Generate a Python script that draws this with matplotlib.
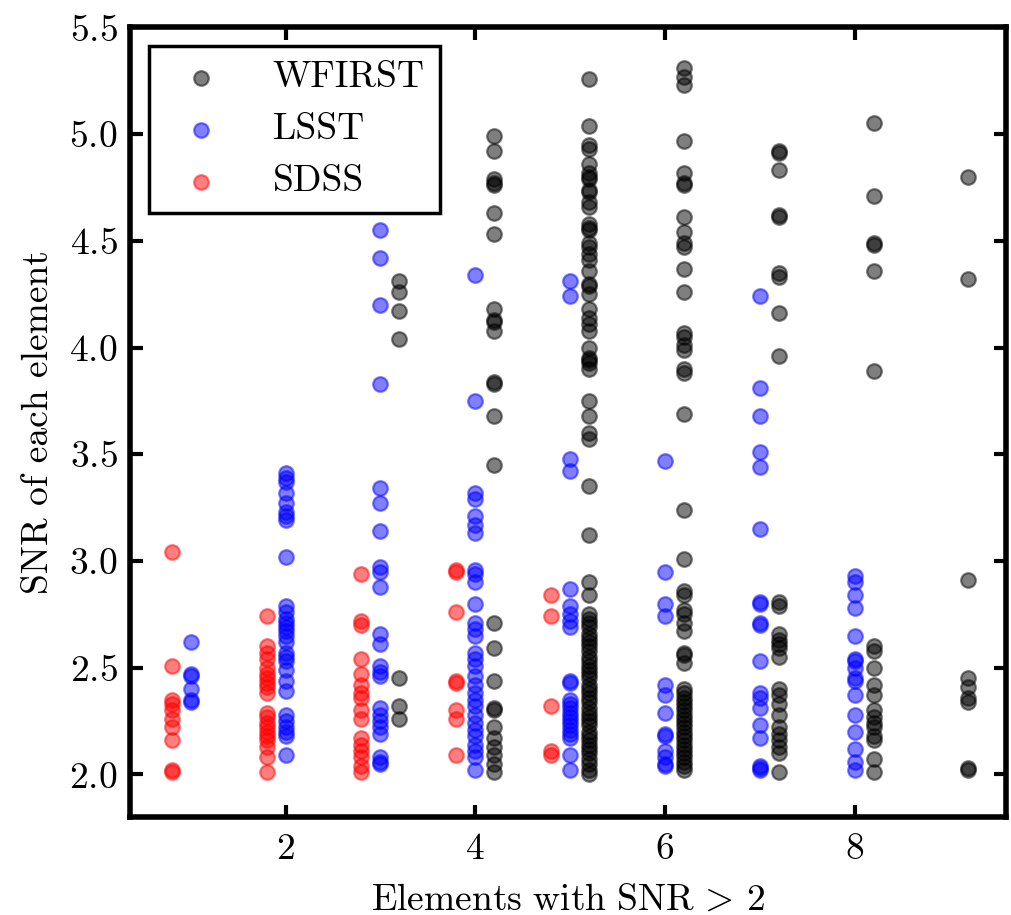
import matplotlib
matplotlib.use("Agg")
import matplotlib.pyplot as plt

# Elements with SNR > 2 (column) for each survey, and the SNR of every element
sdss_n = [1, 2, 3, 4, 5]
sdss_snr = [
    [3.04, 2.51, 2.35, 2.33, 2.30, 2.26, 2.22, 2.16, 2.02, 2.01],
    [2.74, 2.60, 2.57, 2.54, 2.50, 2.47, 2.45, 2.43, 2.41, 2.38, 2.29, 2.27,
     2.24, 2.22, 2.20, 2.18, 2.16, 2.13, 2.08, 2.01],
    [2.94, 2.72, 2.70, 2.54, 2.47, 2.42, 2.38, 2.36, 2.30, 2.26, 2.17, 2.14,
     2.11, 2.08, 2.04, 2.01],
    [2.96, 2.95, 2.76, 2.44, 2.43, 2.30, 2.26, 2.09],
    [2.84, 2.74, 2.32, 2.11, 2.09],
]

lsst_n = [1, 2, 3, 4, 5, 6, 7, 8]
lsst_snr = [
    [2.62, 2.47, 2.46, 2.40, 2.35, 2.34],
    [3.41, 3.39, 3.37, 3.32, 3.27, 3.23, 3.21, 3.19, 3.02, 2.79, 2.76, 2.73,
     2.71, 2.69, 2.67, 2.65, 2.62, 2.57, 2.55, 2.53, 2.49, 2.44, 2.39, 2.28,
     2.25, 2.22, 2.20, 2.18, 2.09],
    [4.55, 4.42, 4.20, 3.83, 3.34, 3.27, 3.14, 2.97, 2.95, 2.88, 2.66, 2.61,
     2.51, 2.48, 2.46, 2.31, 2.28, 2.25, 2.22, 2.19, 2.08, 2.06, 2.05],
    [4.34, 3.75, 3.32, 3.29, 3.21, 3.17, 3.13, 2.96, 2.94, 2.90, 2.80, 2.71,
     2.68, 2.65, 2.57, 2.54, 2.51, 2.46, 2.42, 2.38, 2.35, 2.32, 2.28, 2.24,
     2.21, 2.18, 2.14, 2.11, 2.08, 2.02],
    [4.31, 4.24, 3.48, 3.42, 2.87, 2.79, 2.75, 2.72, 2.69, 2.44, 2.43, 2.35,
     2.33, 2.31, 2.29, 2.27, 2.25, 2.23, 2.21, 2.19, 2.17, 2.09, 2.02],
    [3.47, 2.95, 2.80, 2.74, 2.42, 2.37, 2.29, 2.19, 2.18, 2.11, 2.08, 2.05,
     2.04],
    [4.24, 3.81, 3.68, 3.51, 3.44, 3.15, 2.81, 2.80, 2.71, 2.70, 2.53, 2.38,
     2.36, 2.31, 2.23, 2.17, 2.04, 2.03, 2.02],
    [2.93, 2.90, 2.84, 2.78, 2.65, 2.54, 2.53, 2.50, 2.45, 2.44, 2.37, 2.28,
     2.20, 2.12, 2.06, 2.02],
]

wfirst_n = [3, 4, 5, 6, 7, 8, 9]
wfirst_snr = [
    [4.31, 4.26, 4.17, 4.04, 2.45, 2.32, 2.26],
    [4.99, 4.92, 4.79, 4.77, 4.76, 4.63, 4.53, 4.18, 4.13, 4.12, 4.08, 3.84,
     3.83, 3.68, 3.45, 2.71, 2.59, 2.44, 2.31, 2.30, 2.22, 2.17, 2.13, 2.09,
     2.05, 2.01],
    [5.26, 5.04, 4.95, 4.93, 4.86, 4.82, 4.80, 4.79, 4.74, 4.73, 4.68, 4.66,
     4.58, 4.56, 4.55, 4.49, 4.47, 4.44, 4.41, 4.36, 4.30, 4.29, 4.25, 4.18,
     4.14, 4.11, 4.08, 4.00, 3.95, 3.94, 3.93, 3.90, 3.75, 3.68, 3.60, 3.57,
     3.35, 3.12, 2.90, 2.84, 2.75, 2.73, 2.71, 2.69, 2.66, 2.64, 2.62, 2.60,
     2.58, 2.55, 2.53, 2.51, 2.49, 2.47, 2.45, 2.42, 2.40, 2.38, 2.36, 2.34,
     2.31, 2.29, 2.27, 2.25, 2.23, 2.20, 2.18, 2.16, 2.14, 2.12, 2.10, 2.07,
     2.05, 2.02, 2.00],
    [5.31, 5.27, 5.23, 4.97, 4.82, 4.77, 4.76, 4.61, 4.54, 4.49, 4.47, 4.37,
     4.26, 4.07, 4.05, 4.01, 3.99, 3.90, 3.88, 3.69, 3.24, 3.01, 2.86, 2.84,
     2.77, 2.75, 2.71, 2.67, 2.57, 2.56, 2.52, 2.40, 2.38, 2.36, 2.34, 2.32,
     2.30, 2.28, 2.26, 2.24, 2.22, 2.20, 2.18, 2.16, 2.14, 2.12, 2.10, 2.08,
     2.06, 2.04, 2.02],
    [4.92, 4.91, 4.83, 4.62, 4.61, 4.35, 4.33, 4.16, 3.96, 2.81, 2.79, 2.66,
     2.63, 2.61, 2.59, 2.55, 2.40, 2.37, 2.33, 2.28, 2.22, 2.19, 2.16, 2.13,
     2.10, 2.01],
    [5.05, 4.71, 4.49, 4.48, 4.36, 3.89, 2.60, 2.58, 2.50, 2.42, 2.37, 2.30,
     2.27, 2.24, 2.22, 2.18, 2.16, 2.07, 2.01],
    [4.80, 4.32, 2.91, 2.45, 2.41, 2.36, 2.34, 2.03, 2.02],
]

# horizontal offset of each survey inside its column
offsets = {"SDSS": -0.2, "LSST": 0.0, "WFIRST": 0.2}

plt.rcParams.update({
    "font.family": "serif",
    "font.serif": ["cmr10"],
    "mathtext.fontset": "cm",
    "axes.formatter.use_mathtext": True,
    "font.size": 27,
})


def flatten(ns, snrs, dx):
    xs, ys = [], []
    for n, vals in zip(ns, snrs):
        xs += [n + dx] * len(vals)
        ys += vals
    return xs, ys


fig = plt.figure(figsize=(10.12, 9.15), dpi=100)
ax = fig.add_axes([0.1285, 0.107, 0.866, 0.863])

style = dict(s=110, alpha=0.5, linewidths=1.6)
x, y = flatten(wfirst_n, wfirst_snr, offsets["WFIRST"])
ax.scatter(x, y, c="k", edgecolors="k", label="WFIRST", **style)
x, y = flatten(lsst_n, lsst_snr, offsets["LSST"])
ax.scatter(x, y, c="b", edgecolors="b", label="LSST", **style)
x, y = flatten(sdss_n, sdss_snr, offsets["SDSS"])
ax.scatter(x, y, c="r", edgecolors="r", label="SDSS", **style)

ax.set_xlim(0.36, 9.6)
ax.set_ylim(1.8, 5.5)
ax.set_xticks([2, 4, 6, 8])
ax.set_yticks([2.0, 2.5, 3.0, 3.5, 4.0, 4.5, 5.0, 5.5])
ax.set_xlabel(r"$\mathrm{Elements\ with\ SNR}\,>\,2$", labelpad=13)
ax.set_ylabel("SNR of each element", labelpad=10)

for side in ax.spines.values():
    side.set_linewidth(4)
ax.tick_params(direction="in", length=9, width=3, top=True, right=True)
ax.tick_params(axis="y", pad=9)
ax.tick_params(axis="x", pad=11)

leg = ax.legend(loc="upper left", scatterpoints=1, fancybox=False,
                framealpha=1, handletextpad=0.9)
leg.get_frame().set_edgecolor("k")
leg.get_frame().set_linewidth(2.5)

fig.savefig("out.png", dpi=100)
